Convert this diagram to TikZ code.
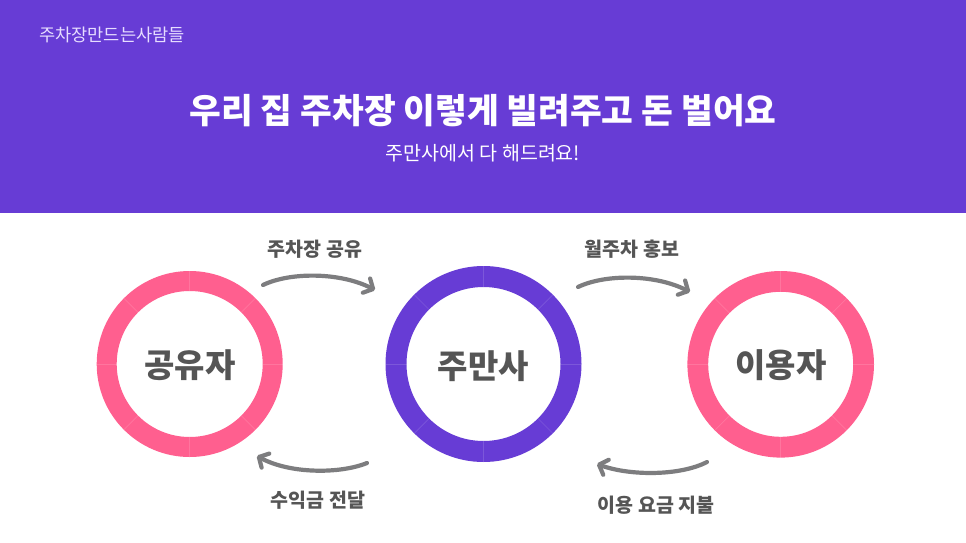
\documentclass[tikz,border=0pt]{standalone}
\usepackage{fontspec}
\setmainfont{Noto Sans CJK KR}
\usetikzlibrary{arrows.meta,calc}
\definecolor{hdr}{HTML}{673CD5}
\definecolor{pinkc}{HTML}{FF5F8F}
\definecolor{txtg}{HTML}{555555}
\definecolor{arrg}{HTML}{7D7D7F}
\definecolor{subw}{HTML}{E6DDFF}
\tikzset{
  ringlabel/.style={font=\fontsize{33}{33}\selectfont\bfseries, text=txtg, inner sep=0pt},
  flowlabel/.style={font=\fontsize{19.5}{19.5}\selectfont\bfseries, text=txtg, inner sep=0pt},
  flowarrow/.style={draw=arrg, line width=4.2pt, line cap=round,
     -{Straight Barb[length=7.5pt,width=16pt,line width=4.2pt,round]}},
  ringsep/.style={white, opacity=0.14, line width=0.7pt},
}
\newcommand{\myring}[5]{% x y outer inner colour
  \fill[#5, even odd rule] (#1,#2) circle[radius=#3] (#1,#2) circle[radius=#4];
  \foreach \a in {0,45,...,315}{
    \draw[ringsep] ($(#1,#2)+(\a:#4)$) -- ($(#1,#2)+(\a:#3)$);
  }
}
\begin{document}
\begin{tikzpicture}[x=1pt,y=-1pt]
\useasboundingbox (0,0) rectangle (966,543);
\fill[white] (0,0) rectangle (966,543);
\fill[hdr] (0,0) rectangle (966,213);
\node[font=\fontsize{17.6}{17.6}\selectfont, text=subw, anchor=west, inner sep=0pt] (brand) at (39,35) {주차장만드는사람들};
\node[font=\fontsize{34.5}{34.5}\selectfont\bfseries, text=white, inner sep=0pt] (title) at (483,111) {우리 집 주차장 이렇게 빌려주고 돈 벌어요};
\node[font=\fontsize{19.5}{19.5}\selectfont, text=white, inner sep=0pt] (sub) at (483,153) {주만사에서 다 해드려요!};

\myring{189.7}{364}{93}{73}{pinkc}
\myring{483.5}{364}{98}{77}{hdr}
\myring{780.7}{364.3}{93.3}{72.5}{pinkc}
\node[ringlabel] (share) at (190,365) {공유자};
\node[ringlabel] (jms) at (483.5,366) {주만사};
\node[ringlabel] (user) at (781,365) {이용자};

\coordinate (a1s) at (263,285); \coordinate (a1e) at (375,290);
\coordinate (a2s) at (578,287); \coordinate (a2e) at (690,292);
\coordinate (a3s) at (367,463); \coordinate (a3e) at (257,456);
\coordinate (a4s) at (707,462); \coordinate (a4e) at (597,464);
\draw[flowarrow] (a1s) .. controls (290,272) and (340,272) .. (a1e);
\draw[flowarrow] (a2s) .. controls (605,274) and (655,274) .. (a2e);
\draw[flowarrow] (a3s) .. controls (340,474) and (290,474) .. (a3e);
\draw[flowarrow] (a4s) .. controls (680,476) and (630,476) .. (a4e);

\node[flowlabel] (l1) at (315,249) {주차장 공유};
\node[flowlabel] (l2) at (632,249) {월주차 홍보};
\node[flowlabel] (l3) at (318,500) {수익금 전달};
\node[flowlabel] (l4) at (656,505) {이용 요금 지불};
\end{tikzpicture}
\end{document}
